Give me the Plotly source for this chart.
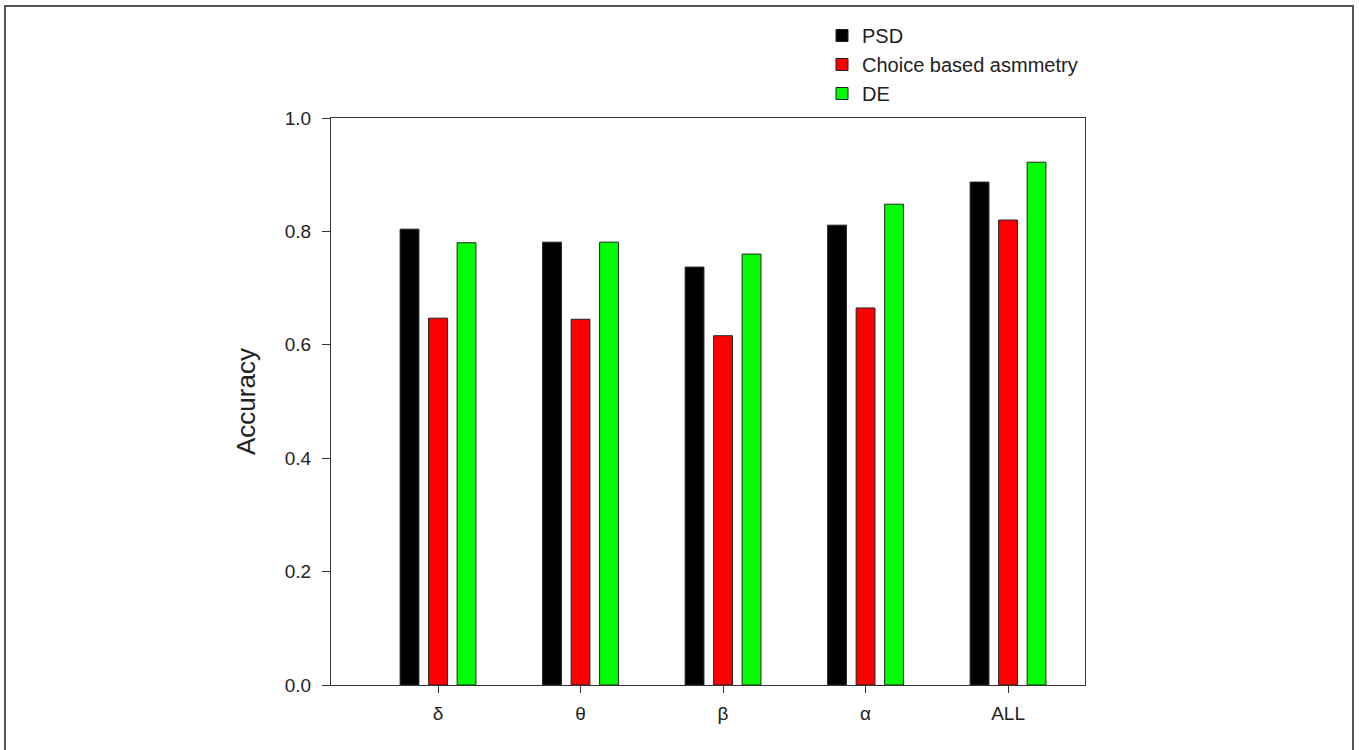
import plotly.graph_objects as go

categories = ["δ", "θ", "β", "α", "ALL"]
psd = [0.804, 0.781, 0.737, 0.811, 0.887]
asym = [0.647, 0.645, 0.616, 0.665, 0.820]
de = [0.780, 0.781, 0.760, 0.848, 0.922]

series = [("PSD", psd, "#000000"), ("Choice based asmmetry", asym, "#ff0000"), ("DE", de, "#00ff00")]

W, H = 1359, 750
L, R, T, B = 331, 1085, 118, 685

fig = go.Figure()
xs = list(range(len(categories)))
for name, vals, col in series:
    fig.add_trace(go.Bar(x=xs, y=vals, name=name, marker=dict(color=col, line=dict(color="#222222", width=1))))

fig.update_layout(
    width=W, height=H,
    margin=dict(l=L, r=W - R, t=T, b=H - B, autoexpand=False),
    paper_bgcolor="white", plot_bgcolor="white",
    barmode="group", bargap=0.4, bargroupgap=0.34,
    font=dict(family="Liberation Sans, Arial, sans-serif", color="#222222", size=19),
    showlegend=True,
    legend=dict(x=(822 - L) / (R - L), y=(B - 16) / (B - T), xanchor="left", yanchor="top",
                font=dict(size=20), bgcolor="rgba(0,0,0,0)", tracegroupgap=0),
    xaxis=dict(tickmode="array", tickvals=xs, ticktext=categories, range=[-0.751, 4.54],
               showline=True, linecolor="#333333", linewidth=1, mirror=True,
               ticks="outside", ticklen=7, tickcolor="#333333", showgrid=False, zeroline=False,
               tickfont=dict(size=19), ticklabelstandoff=4),
    yaxis=dict(range=[0, 1.0], tickmode="array", tickvals=[0, 0.2, 0.4, 0.6, 0.8, 1.0],
               ticktext=["0.0", "0.2", "0.4", "0.6", "0.8", "1.0"],
               showline=True, linecolor="#333333", linewidth=1, mirror=True,
               ticks="outside", ticklen=8, tickcolor="#333333", showgrid=False, zeroline=False,
               ticklabelstandoff=7,
               title=dict(text="Accuracy", font=dict(size=26), standoff=21), tickfont=dict(size=19)),
)

# outer frame of the figure panel
fig.add_shape(type="rect", xref="paper", yref="paper",
              x0=(5 - L) / (R - L), x1=(1353 - L) / (R - L),
              y0=(B - 770) / (B - T), y1=(B - 6) / (B - T),
              line=dict(color="#555555", width=2), fillcolor="rgba(0,0,0,0)", layer="below")

fig.write_html("out.html", config={"displayModeBar": False},
               post_script="document.body.style.margin='0px';")
